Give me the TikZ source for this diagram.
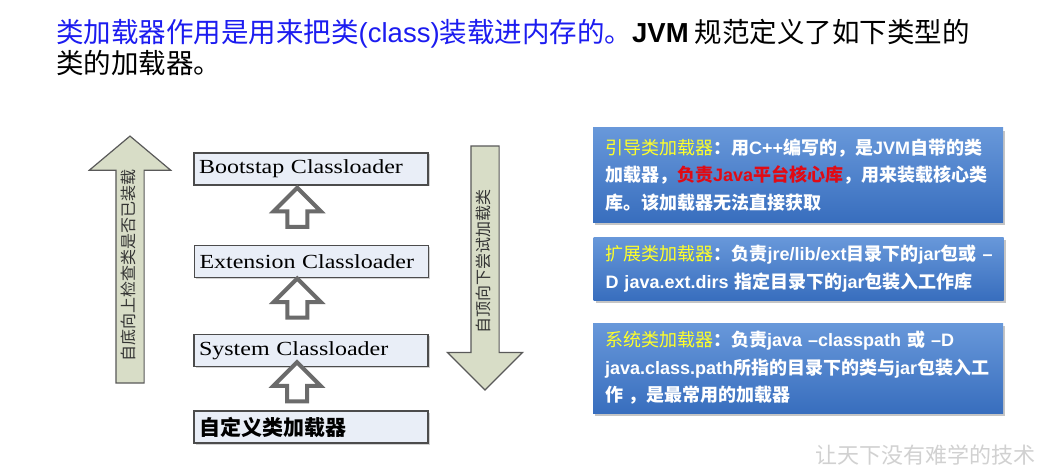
\documentclass[tikz,border=0pt]{standalone}
\usepackage{fontspec}
\setmainfont{Noto Sans CJK SC}
\newfontfamily\en{Liberation Sans}
\newfontfamily\clfont[FakeStretch=1.2]{Liberation Serif}
\usetikzlibrary{shapes.arrows,shadows,calc}
\definecolor{titleblue}{RGB}{28,28,240}
\definecolor{boxgray}{RGB}{233,238,247}
\definecolor{khaki}{RGB}{216,221,199}
\definecolor{infotop}{RGB}{104,152,218}
\definecolor{infobot}{RGB}{56,110,190}
\definecolor{labelyellow}{RGB}{255,255,40}
\definecolor{corered}{RGB}{225,10,20}
\begin{document}
\begin{tikzpicture}[x = 1pt, y = -1pt,
  lbox/.style = {draw = black!70, line width = 1.3pt, fill = boxgray, minimum width = 234pt, minimum height = 32pt,
    text width = 224pt, inner xsep = 5pt, align = left, font = \clfont\fontsize{20}{20}\selectfont,
    drop shadow = {shadow xshift = 1.5pt, shadow yshift = -1.5pt, opacity = 0.35}},
  hollow/.style = {shape = single arrow, rotate = 90, draw = black!58, fill = white, line width = 4pt,
    minimum height = 39pt, inner xsep = 0pt, inner ysep = 8pt, text height = 0pt, text depth = 0pt,
    single arrow head extend = 13.5pt},
  sidearrow/.style = {shape = single arrow, rotate = 90, draw = black!65, fill = khaki, line width = 1.2pt,
    inner xsep = 0pt, inner ysep = 6pt, text height = 12pt, text depth = 3pt, text = black!80,
    font = \fontsize{16}{16}\selectfont},
  infobox/.style = {minimum width = 410pt, text width = 386pt, inner xsep = 12pt, align = left,
    top color = infotop, bottom color = infobot, text = white, font = \bfseries\fontsize{18}{27.5}\selectfont,
    drop shadow = {shadow xshift = 2pt, shadow yshift = -3pt, opacity = 0.45}}]
\fill[white] (0,0) rectangle (1050,468);
\useasboundingbox (0,0) rectangle (1050,468);
\node[anchor = base west, inner sep = 0pt, font = \fontsize{27.5}{31}\selectfont] (title1) at (56,43)
  {{\color{titleblue}类加载器作用是用来把类{\en(class)}装载进内存的。}{\en\bfseries JVM} 规范定义了如下类型的};
\node[anchor = base west, inner sep = 0pt, font = \fontsize{27.5}{31}\selectfont] (title2) at (56,74) {类的加载器。};
\node[lbox] (boot) at (311,169) {Bootstap Classloader};
\node[lbox] (ext) at (311.5,261.5) {Extension Classloader};
\node[lbox] (sys) at (311,350.5) {System Classloader};
\node[lbox, font = \bfseries\fontsize{21}{21}\selectfont] (custom) at (311,427) {自定义类加载器};
\node[hollow] (up1) at ($(boot.south)!0.5!(ext.north)+(-14,-3)$) {};
\node[hollow] (up2) at ($(ext.south)!0.5!(sys.north)+(-14,-3)$) {};
\node[hollow] (up3) at ($(sys.south)!0.5!(custom.north)+(-14,-2)$) {};
\node[sidearrow, minimum height = 247pt, single arrow head extend = 26.5pt, single arrow tip angle = 100]
  (check) at (130,265.5) {自底向上检查类是否已装载};
\node[sidearrow, minimum height = 244pt, single arrow head extend = 23.5pt, shape border rotate = 180]
  (load) at (485,261) {自顶向下尝试加载类};
\node[infobox, minimum height = 94pt] (bootinfo) at (798,175)
  {{\color{labelyellow}\mdseries 引导类加载器}：用{\en C++}编写的，是{\en JVM}自带的类\\
   加载器，{\color{corered}负责{\en Java}平台核心库}，用来装载核心类\\
   库。该加载器无法直接获取};
\node[infobox, minimum height = 63pt] (extinfo) at (798.5,268.5)
  {\mbox{{\color{labelyellow}\mdseries 扩展类加载器}：负责{\en jre/lib/ext}目录下的{\en jar}包或 {\en –}}\\
   {\en D java.ext.dirs} 指定目录下的{\en jar}包装入工作库};
\node[infobox, minimum height = 90pt] (sysinfo) at (798,368)
  {{\color{labelyellow}\mdseries 系统类加载器}：负责{\en java –classpath} 或 {\en –D}\\
   {\en java.class.path}所指的目录下的类与{\en jar}包装入工\\
   作 ，是最常用的加载器};
\node[text = black!18, font = \fontsize{22}{22}\selectfont] (mark) at (925,455) {让天下没有难学的技术};
\end{tikzpicture}
\end{document}
